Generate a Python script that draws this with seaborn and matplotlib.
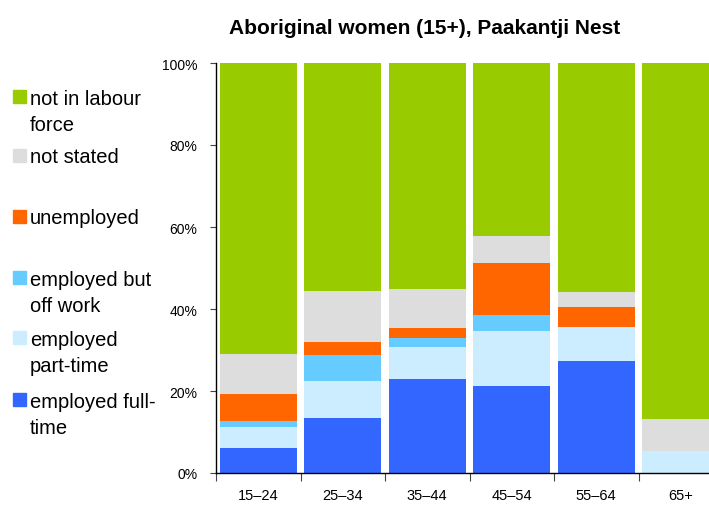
import numpy as np
import pandas as pd
import seaborn as sns
import matplotlib.pyplot as plt
from matplotlib.patches import Rectangle

# data (percent of age group)
age_groups = ['15–24', '25–34', '35–44', '45–54', '55–64', '65+']
full_time = [6.1, 13.5, 22.9, 21.1, 27.3, 0.0]
part_time = [5.1, 9.0, 7.8, 13.5, 8.4, 5.4]
off_work = [1.6, 6.2, 2.3, 3.9, 0.0, 0.0]
unemployed = [6.5, 3.3, 2.4, 12.8, 4.7, 0.0]
not_stated = [9.7, 12.4, 9.5, 6.4, 3.7, 7.8]
not_in_lf = [71.0, 55.6, 55.1, 42.3, 55.9, 86.8]

series_names = ['employed full-\ntime', 'employed\npart-time', 'employed but\noff work',
                'unemployed', 'not stated', 'not in labour\nforce']
series_vals = [full_time, part_time, off_work, unemployed, not_stated, not_in_lf]
colors = ['#3366FF', '#CCECFF', '#66CCFF', '#FF6600', '#DDDDDD', '#99CC00']

sns.set_theme(style='ticks')
plt.rcParams['font.family'] = ['Liberation Sans', 'DejaVu Sans']
plt.rcParams['text.color'] = 'black'
plt.rcParams['xtick.labelcolor'] = 'black'
plt.rcParams['ytick.labelcolor'] = 'black'

fig = plt.figure(figsize=(7.09, 5.06), dpi=100)
ax = fig.add_axes([216 / 709, 1 - 474 / 506, 507 / 709, 410 / 506])

# stacked bars: draw cumulative totals from the top layer down
cum = np.cumsum(np.array(series_vals), axis=0)
for i in range(len(series_vals) - 1, -1, -1):
    df = pd.DataFrame({'age': age_groups, 'val': cum[i]})
    sns.barplot(data=df, x='age', y='val', color=colors[i], width=0.91,
                saturation=1, ax=ax, linewidth=0)

ax.set_ylim(0, 100)
ax.set_xlim(-0.5, 5.5)
ax.set_yticks(range(0, 101, 20))
ax.set_yticklabels([f'{v}%' for v in range(0, 101, 20)], fontsize=10)
ax.set_xticks(range(6))
ax.set_xticklabels(age_groups, fontsize=10.5)
ax.tick_params(axis='x', length=0, pad=11, labelcolor='black')
ax.tick_params(axis='y', length=4.5, width=0.8, color='#444444', pad=9, labelcolor='black')
ax.set_xticks(np.arange(-0.5, 6, 1), minor=True)
ax.tick_params(axis='x', which='minor', length=6, width=0.8, color='#444444')
ax.set_xlabel('')
ax.set_ylabel('')
for s in ['top', 'right']:
    ax.spines[s].set_visible(False)
for s in ['left', 'bottom']:
    ax.spines[s].set_color('black')
    ax.spines[s].set_linewidth(1)

fig.text(425 / 709, 1 - 28 / 506, 'Aboriginal women (15+), Paakantji Nest',
         ha='center', va='center', fontsize=15, fontweight='bold', color='black')

# legend on the left, top entry first
legend_y = [97, 156, 217, 278, 338, 400]
for k, yy in enumerate(legend_y):
    i = len(series_names) - 1 - k
    fig.patches.append(Rectangle((13 / 709, 1 - (yy + 6.5) / 506), 13 / 709, 13 / 506,
                                 transform=fig.transFigure, color=colors[i], figure=fig))
    extra = series_names[i].count('\n') * 27
    fig.text(30 / 709, 1 - (yy + 7 + extra) / 506, series_names[i], ha='left',
             va='baseline', fontsize=14.5, linespacing=1.46, color='black')

fig.savefig('out.png', dpi=100)
